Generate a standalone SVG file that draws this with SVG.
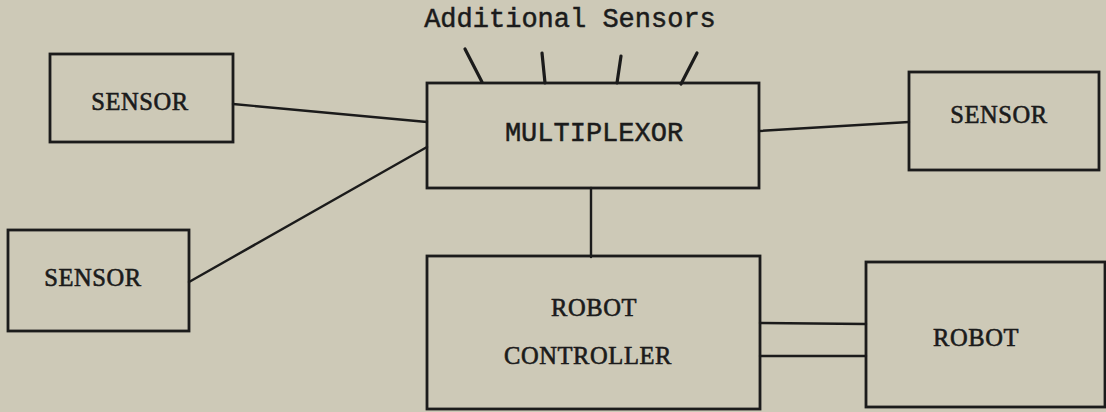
<svg xmlns="http://www.w3.org/2000/svg" width="1106" height="412" viewBox="0 0 1106 412">
  <style>
    .box { fill: none; stroke: #1b1b1b; stroke-width: 2.8; stroke-linejoin: miter; }
    .wire { fill: none; stroke: #1b1b1b; stroke-width: 2.4; stroke-linecap: round; }
    .tick { fill: none; stroke: #1b1b1b; stroke-width: 3.2; stroke-linecap: round; }
    .serif { font-family: "Liberation Serif", "Times New Roman", serif; font-size: 24.5px; fill: #1b1b1b; stroke: #1b1b1b; stroke-width: 0.6; text-anchor: middle; letter-spacing: 0.6px; }
    .mono { font-family: "Liberation Mono", "Courier New", monospace; font-size: 27px; fill: #1b1b1b; stroke: #1b1b1b; stroke-width: 0.5; text-anchor: middle; }
  </style>
  <rect width="1106" height="412" fill="#cdc9b7"/>

  <!-- connectors -->
  <g id="connectors">
    <line class="wire" x1="233" y1="104" x2="427" y2="122"/>
    <line class="wire" x1="427" y1="147" x2="189" y2="282"/>
    <line class="wire" x1="759" y1="131" x2="909" y2="122"/>
    <line class="wire" x1="591" y1="188" x2="591" y2="257"/>
    <line class="wire" x1="760" y1="323" x2="866" y2="324"/>
    <line class="wire" x1="760" y1="356" x2="866" y2="356"/>
    <!-- inputs for additional sensors -->
    <line class="tick" x1="465" y1="49" x2="482" y2="82"/>
    <line class="tick" x1="542" y1="53" x2="545" y2="83"/>
    <line class="tick" x1="621" y1="56" x2="617" y2="83"/>
    <line class="tick" x1="697" y1="53" x2="681" y2="84"/>
  </g>

  <text class="mono" x="570" y="27">Additional Sensors</text>

  <g id="sensor-left-top">
    <rect class="box" x="50" y="54" width="183" height="88"/>
    <text class="serif" x="140" y="110">SENSOR</text>
  </g>

  <g id="sensor-left-bottom">
    <rect class="box" x="8" y="230" width="181" height="101"/>
    <text class="serif" x="93" y="286">SENSOR</text>
  </g>

  <g id="multiplexor">
    <rect class="box" x="427" y="83" width="332" height="105"/>
    <text class="mono" x="594" y="141">MULTIPLEXOR</text>
  </g>

  <g id="sensor-right">
    <rect class="box" x="909" y="72" width="190" height="98"/>
    <text class="serif" x="999" y="123">SENSOR</text>
  </g>

  <g id="robot-controller">
    <rect class="box" x="427" y="256" width="333" height="153"/>
    <text class="serif" x="594" y="316">ROBOT</text>
    <text class="serif" x="588" y="364">CONTROLLER</text>
  </g>

  <g id="robot">
    <rect class="box" x="866" y="262" width="239" height="145"/>
    <text class="serif" x="976" y="346">ROBOT</text>
  </g>
</svg>
